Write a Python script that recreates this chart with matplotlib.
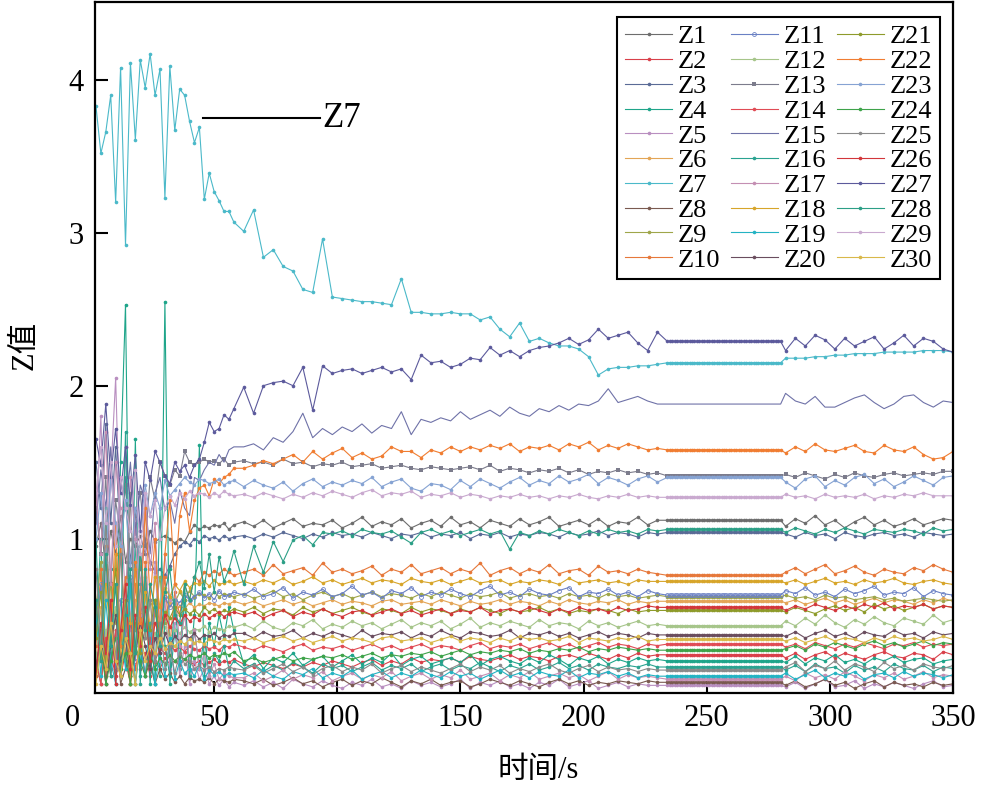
import numpy as np
import matplotlib
matplotlib.use("Agg")
import matplotlib.pyplot as plt

plt.rcParams['font.family'] = ['Liberation Serif', 'Noto Sans CJK SC', 'DejaVu Sans']

# time grid (s): part a / part b / flat hold section / part c
t_a = list(range(2, 59, 2))       # 29 points
t_b = list(range(62, 231, 4))     # 43 points
t_hold = list(range(234, 281))    # values held constant
t_c = list(range(282, 351, 4))    # 18 points

# Z values x100: a (29) + b (43) + c (18)
z1 = [95,110,80,105,90,115,85,100,95,102,90,105,98,100,102,100,97,100,98,104,109,106,108,107,109,108,110,106,109,
      111,108,112,107,110,113,108,110,109,112, 107,110,114,108,111,109,113,107,110,112, 108,114,109,111,107,112,110,108,113,109, 111,114,108,110,112,109,113,108,111,110, 114,109,112,
      108,113,110,115,109,112,107,111,114,109,112,108,110,113,109,111,113,112]
z2 = [15,35,5,25,10,40,20,5,30,15,25,10,20,15,22,18,20,17,21,19,18,20,17,19,21,18,20,19,21,
      18,16,19,17,15,18,16,19,17,20, 18,16,19,21,17,20,18,22,19,21, 20,22,19,23,21,20,22,24,21,23, 22,20,23,24,22,25,23,21,24,22, 25,23,24,
      22,25,21,24,26,22,25,23,21,24,26,23,22,25,24,21,26,24]
z3 = [150,120,175,110,160,95,140,85,110,80,100,85,78,80,76,82,90,95,98,96,100,98,102,100,101,99,102,100,101,
      102,100,103,101,104,102,100,103,101,104, 102,103,101,104,102,100,103,102,104,101, 103,102,104,100,103,102,104,101,103,102, 104,103,101,104,102,103,105,102,104,103, 101,104,103,
      103,101,104,102,103,100,104,102,101,103,104,102,103,101,104,103,102,103]
z4 = [40,100,10,80,5,150,253,5,165,10,70,5,60,10,255,5,40,15,60,10,50,161,10,45,30,50,35,55,40,
      18,24,15,22,19,25,17,21,23,16, 20,24,18,22,19,25,17,21,23,18, 20,22,19,24,17,21,23,20,18,22, 19,24,21,17,22,20,23,18,21,19, 22,20,21,
      19,23,18,22,20,24,19,21,18,22,20,23,19,21,22,18,20,21]
z5 = [110,180,60,140,205,90,160,40,120,70,100,30,85,20,60,15,45,10,30,5,20,8,15,5,10,4,8,3,6,
      4,7,3,6,2,8,5,3,7,4, 2,6,4,8,3,5,2,7,4,6, 3,5,8,2,6,4,7,3,5,2, 6,4,8,3,5,7,2,4,6,3, 5,4,4,
      3,6,2,5,8,3,4,7,2,5,3,6,4,2,5,7,3,4]
z6 = [20,55,10,45,70,25,50,5,60,30,75,40,55,30,50,58,52,56,54,58,55,57,56,58,57,56,58,57,59,
      57,59,56,58,60,57,59,56,58,60, 57,59,58,56,59,60,57,58,59,57, 60,58,56,59,57,58,60,57,59,58, 56,59,57,60,58,57,59,58,60,57, 59,58,59,
      58,60,57,59,61,58,60,57,59,61,58,60,59,57,60,58,61,59]
z7 = [383,352,366,390,320,408,292,411,361,413,395,417,390,407,323,409,367,394,390,373,359,369,322,339,327,321,314,314,307,
      301,315,284,289,278,275,263,261,296,258, 257,256,255,255,254,253,270,248,248,247, 247,248,247,247,243,245,237,232,241,229, 231,228,226,226,224,219,207,211,212,212, 213,213,214,
      218,218,218,219,219,220,220,221,221,221,222,222,222,222,223,223,223,222]
z8 = [20,5,30,10,40,5,15,25,5,35,10,20,5,15,8,12,6,10,5,9,7,8,6,9,5,8,7,6,8,
      7,5,8,4,6,9,5,7,3,6, 8,4,7,5,9,6,3,7,5,8, 4,6,7,3,5,8,6,4,7,5, 3,6,8,5,7,4,6,5,7,6, 5,7,6,
      4,7,3,5,8,4,6,2,5,7,3,6,4,5,3,6,4,5]
z9 = [55,85,30,70,45,100,20,65,40,90,35,60,50,75,45,62,58,65,60,66,62,64,63,61,65,62,64,63,62,
      64,61,63,66,62,64,60,63,65,62, 64,61,63,65,62,64,63,61,64,62, 65,63,61,64,62,63,65,61,63,64, 62,63,61,64,62,63,61,64,62,63, 61,62,63,
      63,61,62,60,63,61,62,60,61,62,60,61,59,60,61,60,59,60]
z10 = [30,80,10,60,20,95,40,5,70,35,85,15,55,40,75,30,65,50,70,60,75,72,78,76,79,77,80,78,76,
       78,80,76,83,77,79,81,76,84,78, 80,77,79,82,76,80,78,83,77,79, 81,77,80,78,84,76,79,81,77,80, 78,83,77,79,80,76,82,78,79,77, 80,78,77,
       78,81,77,80,83,77,79,82,78,76,80,78,77,81,79,83,80,78]
z11 = [40,70,25,55,15,60,35,75,20,50,65,30,58,45,62,55,60,58,63,60,62,65,61,64,60,66,62,63,65,
       63,67,62,64,68,61,65,63,67,62, 64,69,63,65,61,66,64,68,62,65, 63,67,64,62,66,69,63,65,62,67, 64,63,66,68,62,65,64,67,63,65, 62,66,64,
       66,64,68,63,65,62,67,64,66,69,63,65,64,68,62,66,64,63]
z12 = [25,5,40,15,55,20,35,10,45,30,40,25,38,30,42,35,40,38,42,39,41,40,43,39,42,41,40,43,42,
       44,41,46,42,40,45,43,47,41,44, 42,46,43,45,41,44,47,42,45,43, 46,41,44,48,42,45,43,46,44,42, 47,43,45,44,41,46,43,45,42,44, 46,43,44,
       46,43,48,44,50,45,42,47,44,49,45,43,48,46,44,50,45,47]
z13 = [120,90,140,70,125,100,135,80,115,130,95,140,125,150,141,135,145,141,157,150,148,150,152,150,151,149,152,148,150,
       151,149,150,148,152,149,150,147,149,148, 150,147,148,149,146,147,148,146,145,147, 146,145,146,147,145,148,144,146,145,143, 145,144,146,143,145,142,144,143,145,143, 144,142,143,
       142,140,143,141,139,142,140,143,141,140,142,143,141,142,143,142,144,144]
z14 = [20,5,35,15,40,10,25,45,15,30,10,35,20,28,25,30,27,29,26,30,28,27,30,28,29,27,30,29,31,
       29,27,30,28,26,29,31,27,29,28, 30,27,29,31,28,30,27,29,31,28, 30,29,27,30,32,28,30,29,31,28, 30,32,29,31,28,30,32,29,31,30, 28,31,30,
       29,31,28,32,30,28,31,29,32,30,28,31,30,32,29,31,30,31]
z15 = [110,145,120,160,95,140,118,150,102,135,125,90,130,140,118,125,110,132,120,115,140,138,145,150,148,155,150,158,160,
       160,162,158,166,163,170,182,166,172,168, 173,170,175,169,174,172,183,168,178,176, 179,177,183,178,181,184,180,186,182,180, 185,183,187,184,188,187,190,198,189,191, 193,190,188,
       195,190,188,193,186,186,189,192,194,189,185,188,193,194,189,186,190,189]
z16 = [100,20,120,10,90,30,170,10,100,5,80,20,5,120,30,10,60,20,70,10,40,15,35,10,25,20,30,15,20,
       15,18,13,17,14,19,16,12,18,15, 17,13,16,19,14,17,15,18,13,16, 18,14,17,15,19,16,13,17,15,18, 14,16,19,15,17,14,18,16,15,17, 16,18,16,
       14,17,13,18,15,16,12,17,14,16,13,18,15,14,17,13,16,15]
z17 = [130,90,170,70,150,120,60,140,100,50,130,80,110,40,90,60,70,30,50,20,40,15,25,10,18,8,12,10,9,
       9,12,7,10,14,8,11,9,13,7, 10,12,8,11,9,13,7,10,12,8, 11,9,14,8,10,12,7,11,9,13, 8,10,12,9,11,7,10,13,8,11, 9,10,9,
       10,7,12,9,11,8,13,10,7,11,9,12,8,10,13,9,11,10]
z18 = [50,20,70,35,90,15,60,45,80,25,65,40,75,55,68,62,70,66,72,68,71,70,72,69,73,70,71,72,70,
       72,70,73,71,74,70,72,75,71,73, 70,72,74,71,73,72,70,74,72,71, 73,70,72,74,71,72,73,70,72,71, 73,72,70,74,71,72,73,71,72,70, 73,72,72,
       71,73,70,72,74,71,72,70,73,71,72,74,71,70,72,73,71,70]
z19 = [50,10,60,20,5,40,15,70,5,30,10,45,5,25,10,35,8,20,12,15,10,18,8,14,11,13,10,12,11,
       12,9,14,10,8,13,11,15,9,12, 10,14,8,11,13,9,12,10,14,11, 9,13,10,12,8,11,14,10,12,9, 13,11,10,14,9,12,11,13,10,12, 9,11,10,
       12,8,11,14,9,12,10,13,8,11,12,9,13,10,12,11,9,11]
z20 = [15,40,5,30,50,20,35,10,25,45,30,15,35,25,38,30,36,33,37,35,38,34,37,36,38,35,37,36,38,
       38,35,39,36,37,40,35,38,36,39, 37,35,40,36,38,37,39,35,38,36, 40,37,35,39,38,36,37,40,35,38, 37,39,36,38,35,37,39,36,38,37, 35,38,37,
       36,39,35,38,40,36,38,35,39,37,36,40,37,38,35,39,37,38]
z21 = [35,65,15,50,80,30,60,10,45,25,55,40,60,35,52,48,55,50,54,51,53,50,55,52,54,51,53,52,54,
       52,55,51,54,53,50,55,52,54,51, 53,55,52,50,54,53,51,55,52,54, 53,51,54,52,55,53,51,54,52,53, 55,52,54,51,53,52,54,53,51,54, 52,53,53,
       52,55,53,51,54,56,53,55,52,57,54,56,53,55,57,54,56,55]
z22 = [60,20,95,40,110,30,75,10,85,45,120,60,100,35,90,125,70,115,130,105,125,133,135,128,139,136,140,142,146,
       146,148,151,149,152,155,150,157,152,156, 159,153,156,152,154,160,157,157,153,158, 156,160,157,160,158,161,159,162,157,160, 159,161,158,162,160,163,158,161,159,162, 160,158,159,
       156,160,157,162,158,157,159,161,157,156,161,158,157,160,155,152,153,157]
z23 = [100,130,85,140,110,95,125,80,120,105,135,115,130,120,138,128,132,136,140,137,135,139,138,136,137,139,135,137,138,
       134,138,135,133,137,131,136,139,134,137, 135,138,136,140,134,137,139,133,131,136, 135,132,138,134,139,136,133,137,140,135, 138,136,141,137,139,142,136,140,138,135, 139,141,137,
       137,133,139,141,134,138,135,140,142,136,139,134,137,141,138,135,140,141]
z24 = [10,30,5,20,35,15,25,5,30,20,10,25,15,22,18,24,20,23,21,24,22,23,25,22,24,23,25,24,26,
       20,22,19,21,23,20,22,21,23,22, 24,21,23,25,22,24,23,25,24,26, 23,25,27,24,26,25,27,26,28,25, 27,26,28,27,29,26,28,27,29,28, 27,28,27,
       28,30,27,31,29,32,30,28,31,33,30,32,29,31,33,30,32,31]
z25 = [80,30,110,50,20,90,40,130,25,70,35,60,20,45,15,30,12,25,18,20,15,17,14,16,13,15,14,16,15,
       14,17,12,15,18,13,16,11,15,17, 13,16,14,18,12,15,17,13,16,14, 12,15,18,13,16,14,17,12,15,13, 16,18,14,12,15,17,13,16,14,15, 13,15,14,
       16,19,13,17,15,20,14,18,16,13,19,15,17,14,18,16,15,17]
z26 = [10,45,25,60,5,40,70,15,50,30,55,20,45,35,50,42,48,44,50,46,49,47,51,48,50,52,49,51,52,
       50,52,48,51,53,49,52,50,54,51, 49,52,53,50,52,54,51,53,50,52, 54,51,53,52,55,51,53,54,52,55, 53,51,54,52,55,53,54,52,55,53, 54,56,55,
       53,56,54,57,55,53,56,54,57,55,58,54,56,55,57,54,56,55]
z27 = [165,148,188,140,172,130,160,122,155,105,150,138,157,150,141,136,150,144,148,140,148,152,163,176,170,172,181,178,185,
       199,182,200,202,203,200,212,184,213,208, 210,211,208,210,212,209,211,204,220,215, 216,212,214,218,217,225,220,223,219,223, 225,226,228,231,227,230,237,231,233,235, 228,223,235,
       223,231,226,233,230,224,231,226,229,232,224,228,233,226,231,229,224,222]
z28 = [60,20,90,30,70,10,50,80,25,95,40,70,55,30,65,80,50,45,70,60,75,85,68,90,65,88,72,80,92,
       70,95,78,98,85,99,102,96,104,103, 105,102,106,104,103,105,101,97,104,106, 103,105,102,104,106,103,105,93,104,102, 105,103,106,104,102,105,103,106,104,105, 103,106,105,
       104,107,105,103,106,104,107,105,103,106,105,104,106,105,103,107,105,106]
z29 = [130,160,110,150,95,140,120,105,145,90,130,115,125,100,120,128,122,130,126,131,128,130,129,127,130,128,131,129,128,
       129,127,130,128,126,129,127,130,128,131, 129,127,130,132,128,130,129,131,127,129, 128,130,127,129,128,126,128,127,129,127, 128,126,128,127,129,127,126,128,127,129, 127,128,127,
       129,127,128,126,129,127,128,127,129,126,128,127,129,128,130,128,128,128]
z30 = [5,30,15,45,20,10,35,25,5,40,20,30,25,35,28,32,30,33,31,34,32,33,31,34,33,32,34,33,34,
       33,35,32,34,36,33,35,32,34,36, 33,35,34,32,35,36,33,34,35,32, 34,36,33,35,34,32,35,33,36,34, 35,33,34,36,32,35,34,33,35,34, 36,33,34,
       33,35,32,34,36,33,35,34,32,35,33,36,34,35,33,34,36,34]

# value held between 234 s and 280 s (x100), Z1..Z30
hold_vals = [112, 24, 104, 20, 4, 59, 215, 6, 62, 76,
             63, 43, 141, 31, 188, 16, 8, 72, 10, 37,
             53, 158, 140, 27, 14, 55, 229, 106, 127, 34]

labels = ['Z%d' % i for i in range(1, 31)]
colors = ['#6d6d6d', '#d9404a', '#5a6b96', '#1fa58a', '#b98fc0', '#e3a556', '#4bb9c9', '#7a5a50', '#9fa64a', '#e6783a',
          '#6a80c4', '#a6c58a', '#7c7c8c', '#e04b55', '#6f72a8', '#2aa391', '#c48fb3', '#d7a52a', '#24b3c3', '#6a4d5e',
          '#8e9b2b', '#f07d32', '#86a3d3', '#3ea34a', '#8a8a8a', '#d2363a', '#5c5a9c', '#2c9f86', '#c9a9cf', '#d9b84a']

series = [z1, z2, z3, z4, z5, z6, z7, z8, z9, z10, z11, z12, z13, z14, z15,
          z16, z17, z18, z19, z20, z21, z22, z23, z24, z25, z26, z27, z28, z29, z30]

na, nb, nc = len(t_a), len(t_b), len(t_c)
t_all = np.array(t_a + t_b + t_hold + t_c, dtype=float)

fig = plt.figure(figsize=(9.81, 7.93), dpi=100)
ax = fig.add_axes([0.0968, 0.1261, 0.8747, 0.8714])

for i, vals in enumerate(series):
    if len(vals) != na + nb + nc:
        raise ValueError(f"{labels[i]} has {len(vals)} values")
    v = vals[:na + nb] + [hold_vals[i]] * len(t_hold) + vals[na + nb:]
    v = np.array(v) / 100.0
    kw = dict(marker='o', ms=2.6, mew=0)
    if labels[i] == 'Z15':
        kw = dict(marker=None)
    elif labels[i] == 'Z11':
        kw = dict(marker='o', ms=2.8, mfc='none', mew=0.6)
    elif labels[i] == 'Z13':
        kw = dict(marker='s', ms=2.3, mew=0)
    ax.plot(t_all, v, color=colors[i], lw=0.8, label=labels[i], **kw)

# Z7 marker line
z7_line_x = [45.5, 93]
z7_line_y = [3.75, 3.75]
ax.plot(z7_line_x, z7_line_y, color='black', lw=1.5)
ax.text(94, 3.75, 'Z7', fontsize=25, va='center', ha='left')

ax.set_xlim(1.6, 350)
ax.set_ylim(-0.01, 4.51)
ax.set_xticks([50, 100, 150, 200, 250, 300, 350])
ax.set_yticks([1, 2, 3, 4])
ax.tick_params(direction='in', length=9, width=1.5, labelsize=22, pad=8, top=False, right=False)
for s in ax.spines.values():
    s.set_linewidth(1.6)
ax.annotate('0', xy=(0, 0), xycoords='axes fraction', xytext=(-16, -8),
            textcoords='offset points', ha='center', va='top', fontsize=22)

fig.text(538 / 981, 1 - 770 / 793, '时间/s', fontsize=22, ha='center', va='center')
fig.text(25 / 981, 1 - 345 / 793, 'Z值', fontsize=22, ha='center', va='center', rotation=90)

leg = ax.legend(loc='upper right', bbox_to_anchor=(940 / 981, 1 - 17 / 793), bbox_transform=fig.transFigure,
                ncol=3, fontsize=19, frameon=True, fancybox=False, edgecolor='black', framealpha=1,
                borderaxespad=0, handlelength=1.8, handletextpad=0.2, columnspacing=0.4,
                labelspacing=0.05, borderpad=0.3)
leg.get_frame().set_linewidth(1.5)

fig.savefig('out.png', dpi=100)
